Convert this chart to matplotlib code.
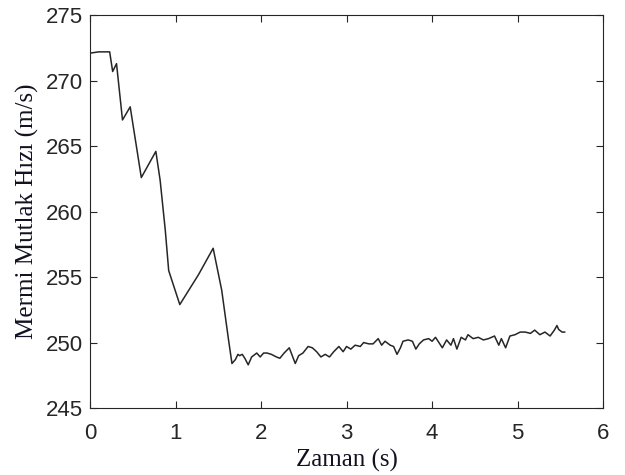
import numpy as np
import matplotlib.pyplot as plt

# projectile absolute speed vs time
t = [0.0, 0.10, 0.23, 0.265, 0.31, 0.38, 0.47, 0.60, 0.77, 0.82, 0.88, 0.92, 1.05,
     1.27, 1.44, 1.54, 1.62,
     1.66, 1.70, 1.73, 1.75, 1.78, 1.81, 1.85, 1.89, 1.95, 1.99, 2.03, 2.07, 2.12,
     2.18, 2.22, 2.27, 2.33, 2.40, 2.44, 2.49, 2.55, 2.60, 2.65, 2.70, 2.75, 2.80,
     2.85, 2.91, 2.96, 3.00, 3.05, 3.10, 3.16, 3.20, 3.26, 3.31, 3.37, 3.41, 3.45,
     3.51, 3.55, 3.59, 3.63, 3.66, 3.72, 3.77, 3.81, 3.85, 3.90, 3.96, 4.00, 4.04,
     4.07, 4.12, 4.17, 4.22, 4.25, 4.29, 4.34, 4.39, 4.42, 4.48, 4.54, 4.60, 4.66,
     4.73, 4.78, 4.81, 4.86, 4.91, 4.97, 5.03, 5.09, 5.15, 5.20, 5.26, 5.32, 5.38,
     5.43, 5.46, 5.48, 5.52, 5.55]
v = [272.1, 272.2, 272.2, 270.7, 271.3, 267.0, 268.0, 262.6, 264.6, 262.4, 258.6, 255.5, 252.9,
     255.2, 257.2, 254.0, 250.2,
     248.4, 248.7, 249.1, 249.0, 249.1, 248.8, 248.3, 248.9, 249.2, 248.9, 249.2, 249.2, 249.1,
     248.9, 248.8, 249.2, 249.6, 248.4, 249.0, 249.2, 249.7, 249.6, 249.3, 248.9, 249.1, 248.9,
     249.3, 249.7, 249.3, 249.7, 249.5, 249.8, 249.7, 250.0, 249.9, 249.9, 250.3, 249.8, 250.1,
     249.8, 249.7, 249.1, 249.6, 250.1, 250.2, 250.1, 249.5, 249.9, 250.2, 250.3, 250.1, 250.4,
     250.1, 249.6, 250.2, 249.8, 250.3, 249.5, 250.4, 250.2, 250.6, 250.3, 250.4, 250.2, 250.3,
     250.5, 249.8, 250.3, 249.6, 250.5, 250.6, 250.8, 250.8, 250.7, 250.95, 250.6, 250.8, 250.5,
     250.95, 251.3, 251.0, 250.8, 250.8]

xticks = [0, 1, 2, 3, 4, 5, 6]
yticks = [245, 250, 255, 260, 265, 270, 275]

fig = plt.figure(figsize=(6.25, 4.75), dpi=100)
ax = fig.add_axes([0.144, 0.141, 0.821, 0.827])

ax.plot(t, v, color='#262626', linewidth=1.1)

ax.set_xlim(0, 6)
ax.set_ylim(245, 275)
ax.set_xticks(xticks)
ax.set_yticks(yticks)

for s in ax.spines.values():
    s.set_color('#262626')
    s.set_linewidth(0.8)
ax.tick_params(direction='in', top=True, right=True, length=5, width=0.8,
               color='#262626', labelcolor='#262626', labelsize=16)
ax.tick_params(axis='x', pad=11)
ax.tick_params(axis='y', pad=5)
for lbl in ax.get_xticklabels() + ax.get_yticklabels():
    lbl.set_fontname('Liberation Sans')

ax.set_xlabel('Zaman (s)', fontname='Liberation Serif', fontsize=18, color='#111122', labelpad=3)
ax.set_ylabel('Mermi Mutlak Hızı (m/s)', fontname='Liberation Serif', fontsize=18, color='#111122', labelpad=5)

plt.savefig('out.png', dpi=100)
